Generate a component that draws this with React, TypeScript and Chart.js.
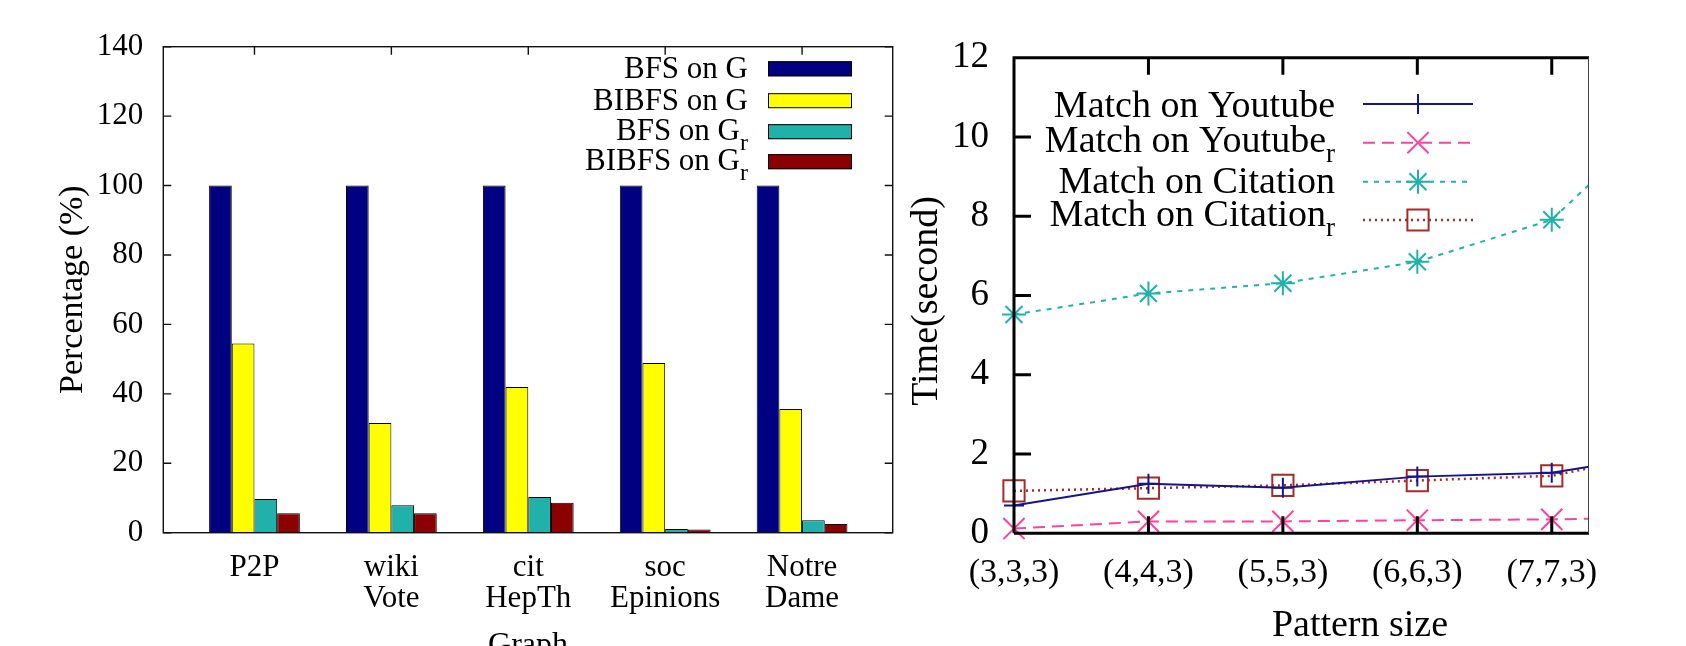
import React, { useEffect, useRef } from 'react';
import { Chart, registerables } from 'chart.js';
Chart.register(...registerables);

// ---------- Left chart data ----------
const graphLabels: string[][] = [['P2P'], ['wiki', 'Vote'], ['cit', 'HepTh'], ['soc', 'Epinions'], ['Notre', 'Dame']];
const bfsG = [100, 100, 100, 100, 100];
const bibfsG = [54.5, 31.6, 42.0, 48.9, 35.6];
const bfsGr = [9.7, 7.9, 10.3, 1.1, 3.6];
const bibfsGr = [5.6, 5.6, 8.6, 0.95, 2.5];
const pctTicks = [0, 20, 40, 60, 80, 100, 120, 140];
const barNames = ['BFS on G', 'BIBFS on G', 'BFS on G', 'BIBFS on G'];
const barSubs = ['', '', 'r', 'r'];
const barColors = ['#000080', '#ffff00', '#20b2aa', '#8b0000'];

// ---------- Right chart data ----------
const patternLabels = ['(3,3,3)', '(4,4,3)', '(5,5,3)', '(6,6,3)', '(7,7,3)', '(8,8,3)'];
const youtube = [0.70, 1.25, 1.15, 1.43, 1.53, 2.07];
const youtubeR = [0.12, 0.30, 0.30, 0.33, 0.35, 0.42];
const citation = [5.52, 6.05, 6.31, 6.85, 7.91, 11.1];
const citationR = [1.07, 1.14, 1.21, 1.33, 1.45, 2.14];
const timeTicks = [0, 2, 4, 6, 8, 10, 12];
const lineNames = ['Match on Youtube', 'Match on Youtube', 'Match on Citation', 'Match on Citation'];
const lineSubs = ['', 'r', '', 'r'];
const lineColors = ['#14148c', '#ff409f', '#20b2aa', '#a52a2a'];
const lineDashes = [[], [12, 7], [5, 6], [2, 4]];
const lineMarkers = ['cross', 'crossRot', 'star', 'rect'];
const markerRadius = [10, 15, 12, 15];

const FAMILY = '"Liberation Serif", "Times New Roman", serif';
const f = (s: number) => `${s}px ${FAMILY}`;

function drawKeyText(ctx: CanvasRenderingContext2D, main: string, sub: string, rightX: number, baseline: number, size: number, subSize: number, subDy: number) {
  ctx.textBaseline = 'alphabetic';
  let sw = 0;
  if (sub) {
    ctx.font = f(subSize);
    sw = ctx.measureText(sub).width;
    ctx.textAlign = 'left';
    ctx.fillText(sub, rightX - sw, baseline + subDy);
  }
  ctx.font = f(size);
  ctx.textAlign = 'right';
  ctx.fillText(main, rightX - sw, baseline);
}

function drawMarker(ctx: CanvasRenderingContext2D, style: string, x: number, y: number, r: number) {
  const d = r * Math.SQRT1_2;
  ctx.beginPath();
  if (style === 'cross' || style === 'star') {
    ctx.moveTo(x, y - r); ctx.lineTo(x, y + r);
    ctx.moveTo(x - r, y); ctx.lineTo(x + r, y);
  }
  if (style === 'crossRot' || style === 'star') {
    ctx.moveTo(x - d, y - d); ctx.lineTo(x + d, y + d);
    ctx.moveTo(x + d, y - d); ctx.lineTo(x - d, y + d);
  }
  if (style === 'rect') {
    ctx.rect(x - d, y - d, 2 * d, 2 * d);
  }
  ctx.stroke();
}

export default function App() {
  const leftRef = useRef<HTMLCanvasElement>(null);
  const rightRef = useRef<HTMLCanvasElement>(null);

  useEffect(() => {
    const barSeries = [bfsG, bibfsG, bfsGr, bibfsGr];

    const leftFrame = {
      id: 'leftFrame',
      afterDatasetsDraw(chart: any) {
        const { ctx, chartArea: { left, right, top, bottom }, scales: { x, y } } = chart;
        ctx.save();
        ctx.strokeStyle = '#111';
        ctx.lineWidth = 1.4;
        ctx.strokeRect(left, top, right - left, bottom - top);
        ctx.beginPath();
        pctTicks.forEach((v) => {
          const py = y.getPixelForValue(v);
          ctx.moveTo(left, py); ctx.lineTo(left + 8, py);
          ctx.moveTo(right, py); ctx.lineTo(right - 8, py);
        });
        graphLabels.forEach((_, i) => {
          const px = x.getPixelForValue(i);
          ctx.moveTo(px, top); ctx.lineTo(px, top + 8);
        });
        ctx.stroke();
        // legend
        const rows = [68.8, 100.7, 131.7, 161.7];
        const baselines = [78.3, 110, 140, 170];
        ctx.fillStyle = '#000';
        rows.forEach((cy, i) => {
          drawKeyText(ctx, barNames[i], barSubs[i], 748, baselines[i], 31, 24, 10);
          ctx.fillStyle = barColors[i];
          ctx.fillRect(768, cy - 7.5, 84, 15);
          ctx.strokeStyle = '#000';
          ctx.lineWidth = 1;
          ctx.strokeRect(768.5, cy - 7, 83, 14);
          ctx.fillStyle = '#000';
        });
        // axis titles
        ctx.font = f(34);
        ctx.textAlign = 'center';
        ctx.textBaseline = 'middle';
        ctx.save();
        ctx.translate(73, (top + bottom) / 2);
        ctx.rotate(-Math.PI / 2);
        ctx.fillText('Percentage (%)', 0, 0);
        ctx.restore();
        ctx.font = f(32);
        ctx.textBaseline = 'alphabetic';
        ctx.fillText('Graph', (left + right) / 2, 654);
        ctx.restore();
      },
    };

    const left = new Chart(leftRef.current!, {
      type: 'bar',
      data: {
        datasets: barSeries.map((s, i) => ({
          label: barNames[i] + barSubs[i],
          data: s.map((v, j) => ({ x: j, y: v })),
          backgroundColor: barColors[i],
          borderColor: '#000',
          borderWidth: 1,
          categoryPercentage: 0.663,
          barPercentage: 1,
        })),
      },
      options: {
        responsive: false,
        animation: false,
        events: [],
        layout: { padding: { left: 0, right: 7.3, top: 46.7, bottom: 0 } },
        plugins: { legend: { display: false }, tooltip: { enabled: false } },
        scales: {
          x: {
            type: 'linear',
            offset: false,
            min: -0.666,
            max: 4.662,
            grid: { display: false, drawTicks: false, offset: false },
            border: { display: false },
            afterBuildTicks: (s: any) => { s.ticks = graphLabels.map((_, i) => ({ value: i })); },
            afterFit: (s: any) => { s.height = 646 - 532.7; s.paddingLeft = 0; s.paddingRight = 0; },
            ticks: {
              autoSkip: false,
              maxRotation: 0,
              padding: 20,
              color: '#000',
              font: { family: FAMILY, size: 31, lineHeight: 1 },
              callback: (v: any) => graphLabels[v as number] ?? '',
            },
          },
          y: {
            type: 'linear',
            min: 0,
            max: 140,
            grid: { display: false, drawTicks: false },
            border: { display: false },
            afterBuildTicks: (s: any) => { s.ticks = pctTicks.map((v) => ({ value: v })); },
            afterFit: (s: any) => { s.width = 163.3; s.paddingTop = 0; s.paddingBottom = 0; },
            ticks: { padding: 20, color: '#000', font: { family: FAMILY, size: 31 } },
          },
        },
      },
      plugins: [leftFrame],
    } as any);

    const lineSeries = [youtube, youtubeR, citation, citationR];

    const rightFrame = {
      id: 'rightFrame',
      afterDatasetsDraw(chart: any) {
        const { ctx, chartArea: { left, right, top, bottom }, scales: { x, y } } = chart;
        ctx.save();
        ctx.strokeStyle = '#000';
        ctx.lineWidth = 3;
        ctx.beginPath();
        ctx.moveTo(left, bottom); ctx.lineTo(left, top); ctx.lineTo(right, top);
        ctx.moveTo(left, bottom); ctx.lineTo(right, bottom);
        timeTicks.forEach((v) => {
          const py = y.getPixelForValue(v);
          ctx.moveTo(left, py); ctx.lineTo(left + 17, py);
        });
        [1, 2, 3, 4].forEach((i) => {
          const px = x.getPixelForValue(i);
          ctx.moveTo(px, bottom); ctx.lineTo(px, bottom - 17);
          ctx.moveTo(px, top); ctx.lineTo(px, top + 17);
        });
        ctx.stroke();
        ctx.lineWidth = 1;
        ctx.strokeStyle = '#444';
        ctx.beginPath();
        ctx.moveTo(right - 0.5, top); ctx.lineTo(right - 0.5, bottom);
        ctx.stroke();
        // legend
        const rows = [104, 142.7, 181.7, 220];
        const baselines = [116.7, 151.7, 193.3, 226];
        rows.forEach((cy, i) => {
          ctx.fillStyle = '#000';
          drawKeyText(ctx, lineNames[i], lineSubs[i], 435, baselines[i], 38, 27, 10);
          ctx.strokeStyle = lineColors[i];
          ctx.lineWidth = i === 3 ? 2.5 : 2;
          ctx.setLineDash(lineDashes[i]);
          ctx.beginPath();
          ctx.moveTo(463, cy); ctx.lineTo(573, cy);
          ctx.stroke();
          ctx.setLineDash([]);
          ctx.lineWidth = 2;
          drawMarker(ctx, lineMarkers[i], 518, cy, markerRadius[i]);
        });
        // axis titles
        ctx.fillStyle = '#000';
        ctx.textAlign = 'center';
        ctx.font = f(38);
        ctx.textBaseline = 'middle';
        ctx.save();
        ctx.translate(27, 301);
        ctx.rotate(-Math.PI / 2);
        ctx.fillText('Time(second)', 0, 0);
        ctx.restore();
        ctx.textBaseline = 'alphabetic';
        ctx.fillText('Pattern size', 460, 636);
        ctx.restore();
      },
    };

    const right = new Chart(rightRef.current!, {
      type: 'line',
      data: {
        datasets: lineSeries.map((s, i) => ({
          label: lineNames[i] + lineSubs[i],
          data: s.map((v, j) => ({ x: j, y: v })),
          borderColor: lineColors[i],
          borderWidth: i === 3 ? 2.5 : 2,
          borderDash: lineDashes[i],
          pointStyle: lineMarkers[i],
          pointRadius: markerRadius[i],
          pointBorderWidth: 2,
          pointBorderColor: lineColors[i],
          pointBackgroundColor: 'rgba(0,0,0,0)',
          fill: false,
          tension: 0,
          clip: { left: 20, top: 0, right: 0, bottom: 20 },
        })),
      },
      options: {
        responsive: false,
        animation: false,
        events: [],
        layout: { padding: { left: 0, right: 1, top: 57.7, bottom: 0 } },
        plugins: { legend: { display: false }, tooltip: { enabled: false } },
        scales: {
          x: {
            type: 'linear',
            offset: false,
            min: 0,
            max: 4.277,
            grid: { display: false, drawTicks: false },
            border: { display: false },
            afterBuildTicks: (s: any) => { s.ticks = [0, 1, 2, 3, 4].map((v) => ({ value: v })); },
            afterFit: (s: any) => { s.height = 646 - 533.3; s.paddingLeft = 0; s.paddingRight = 0; },
            ticks: {
              autoSkip: false,
              maxRotation: 0,
              padding: 19,
              color: '#000',
              font: { family: FAMILY, size: 34 },
              callback: (v: any) => patternLabels[v as number] ?? '',
            },
          },
          y: {
            type: 'linear',
            min: 0,
            max: 12,
            grid: { display: false, drawTicks: false },
            border: { display: false },
            afterBuildTicks: (s: any) => { s.ticks = timeTicks.map((v) => ({ value: v })); },
            afterFit: (s: any) => { s.width = 114; s.paddingTop = 0; s.paddingBottom = 0; },
            ticks: { padding: 25, color: '#000', font: { family: FAMILY, size: 37 } },
          },
        },
      },
      plugins: [rightFrame],
    } as any);

    return () => {
      left.destroy();
      right.destroy();
    };
  }, []);

  return (
    <div style={{ position: 'absolute', left: 0, top: 0, width: 1686, height: 646, background: '#fff', overflow: 'hidden' }}>
      <canvas ref={leftRef} width={900} height={646} style={{ position: 'absolute', left: 0, top: 0, width: 900, height: 646 }} />
      <canvas ref={rightRef} width={706} height={646} style={{ position: 'absolute', left: 900, top: 0, width: 706, height: 646 }} />
    </div>
  );
}
